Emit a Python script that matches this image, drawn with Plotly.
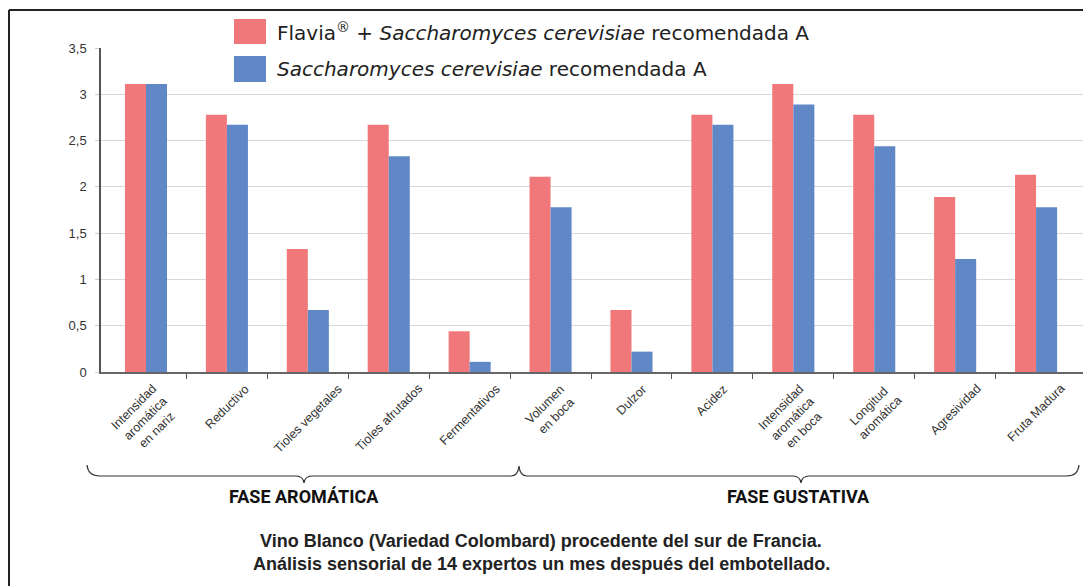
import plotly.graph_objects as go

categories = [
    "Intensidad<br>aromática<br>en nariz", "Reductivo", "Tioles vegetales", "Tioles afrutados",
    "Fermentativos", "Volumen<br>en boca", "Dulzor", "Acidez",
    "Intensidad<br>aromática<br>en boca", "Longitud<br>aromática", "Agresividad", "Fruta Madura",
]
flavia_values = [3.11, 2.78, 1.33, 2.67, 0.44, 2.11, 0.67, 2.78, 3.11, 2.78, 1.89, 2.13]
control_values = [3.11, 2.67, 0.67, 2.33, 0.11, 1.78, 0.22, 2.67, 2.89, 2.44, 1.22, 1.78]
series_names = [
    "Flavia<sup>®</sup> + <i>Saccharomyces cerevisiae</i> recomendada A",
    "<i>Saccharomyces cerevisiae</i> recomendada A",
]
y_tick_values = [0, 0.5, 1, 1.5, 2, 2.5, 3, 3.5]
y_tick_labels = ["0", "0,5", "1", "1,5", "2", "2,5", "3", "3,5"]
phase_labels = ["FASE AROMÁTICA", "FASE GUSTATIVA"]
footer_lines = [
    "Vino Blanco (Variedad Colombard) procedente del sur de Francia.",
    "Análisis sensorial de 14 expertos un mes después del embotellado.",
]

RED = "#F0787B"
BLUE = "#6188C6"

W, H = 1083, 586
L, R, T, B = 101, 0, 48, 214
PW = W - L - R
PH = H - T - B


def px(x):
    return (x - L) / PW


def py(y):
    return (H - B - y) / PH


idx = list(range(len(categories)))

fig = go.Figure()
fig.add_trace(go.Bar(x=idx, y=flavia_values, name=series_names[0],
                     marker=dict(color=RED, line=dict(width=0)), showlegend=False))
fig.add_trace(go.Bar(x=idx, y=control_values, name=series_names[1],
                     marker=dict(color=BLUE, line=dict(width=0)), showlegend=False))

shapes = []
annotations = []

# category labels (rotated, bounding box centred under each category)
for i, cat in enumerate(categories):
    annotations.append(dict(xref="x", yref="paper", x=i, y=py(379), xanchor="center", yanchor="top",
                            textangle=-45, showarrow=False, text=cat, align="center",
                            font=dict(family="Liberation Sans, Arial, sans-serif", size=12.5, color="#333")))

# legend swatches + labels
for i, (name, col) in enumerate(zip(series_names, [RED, BLUE])):
    y0, y1 = (19, 44) if i == 0 else (56, 82)
    shapes.append(dict(type="rect", xref="paper", yref="paper", x0=px(234), x1=px(266),
                       y0=py(y1), y1=py(y0), fillcolor=col, line=dict(width=0)))
    annotations.append(dict(xref="paper", yref="paper", x=px(275), y=py((y0 + y1) / 2),
                            xanchor="left", yanchor="middle", showarrow=False, text=name,
                            font=dict(family="DejaVu Sans", size=20, color="#222")))

# outer frame (top and left)
shapes.append(dict(type="line", xref="paper", yref="paper", x0=px(9), x1=px(1083), y0=py(10), y1=py(10),
                   line=dict(color="#222", width=2)))
shapes.append(dict(type="line", xref="paper", yref="paper", x0=px(9), x1=px(9), y0=py(10), y1=py(586),
                   line=dict(color="#222", width=2)))


def P(x, y):
    return f"{px(x):.5f},{py(y):.5f}"


brace = (
    f"M {P(87,465)} Q {P(88,476)} {P(100,476)} L {P(296,476)} "
    f"Q {P(303,476)} {P(304,483)} Q {P(305,476)} {P(312,476)} L {P(511,476)} "
    f"Q {P(518,476)} {P(519,466)} Q {P(520,476)} {P(527,476)} L {P(793,476)} "
    f"Q {P(800,476)} {P(801,483)} Q {P(802,476)} {P(809,476)} L {P(1067,476)} "
    f"Q {P(1078,476)} {P(1079,465)}"
)
shapes.append(dict(type="path", xref="paper", yref="paper", path=brace,
                   line=dict(color="#333", width=1.2)))

for lbl, cx in zip(phase_labels, [304, 798]):
    annotations.append(dict(xref="paper", yref="paper", x=px(cx), y=py(496), xanchor="center",
                            yanchor="middle", showarrow=False, text=f"<b>{lbl}</b>",
                            font=dict(family="Roboto, Liberation Sans, sans-serif",
                                      size=18, color="#111")))

for line, cy in zip(footer_lines, [541, 564]):
    annotations.append(dict(xref="paper", yref="paper", x=px(541), y=py(cy), xanchor="center",
                            yanchor="middle", showarrow=False, text=f"<b>{line}</b>",
                            font=dict(family="Liberation Sans, Arial, sans-serif", size=18, color="#222")))

fig.update_layout(
    width=W, height=H,
    margin=dict(l=L, r=R, t=T, b=B, autoexpand=False),
    paper_bgcolor="white", plot_bgcolor="white",
    barmode="group", bargap=0.48, bargroupgap=0,
    separators=",.",
    shapes=shapes, annotations=annotations,
    font=dict(family="Liberation Sans, Arial, sans-serif", color="#333"),
)
fig.update_xaxes(
    range=[-0.556, 11.58], tickmode="array", tickvals=[i + 0.5 for i in idx[:-1]],
    showticklabels=False,
    showline=True, linecolor="#666", linewidth=2,
    ticks="outside", ticklen=5, tickcolor="#555", showgrid=False, zeroline=False,
)
fig.update_yaxes(
    range=[0, 3.5], tickmode="array", tickvals=y_tick_values, ticktext=y_tick_labels,
    tickfont=dict(size=13, color="#333"), ticklabelstandoff=6,
    showline=True, linecolor="#555", linewidth=1.5,
    ticks="outside", ticklen=4, tickcolor="#cccccc",
    showgrid=True, gridcolor="#d9d9d9", gridwidth=1, zeroline=False,
)

fig.write_html("out.html", config={"displayModeBar": False},
               post_script="document.body.style.margin='0';document.body.style.overflow='hidden';")
